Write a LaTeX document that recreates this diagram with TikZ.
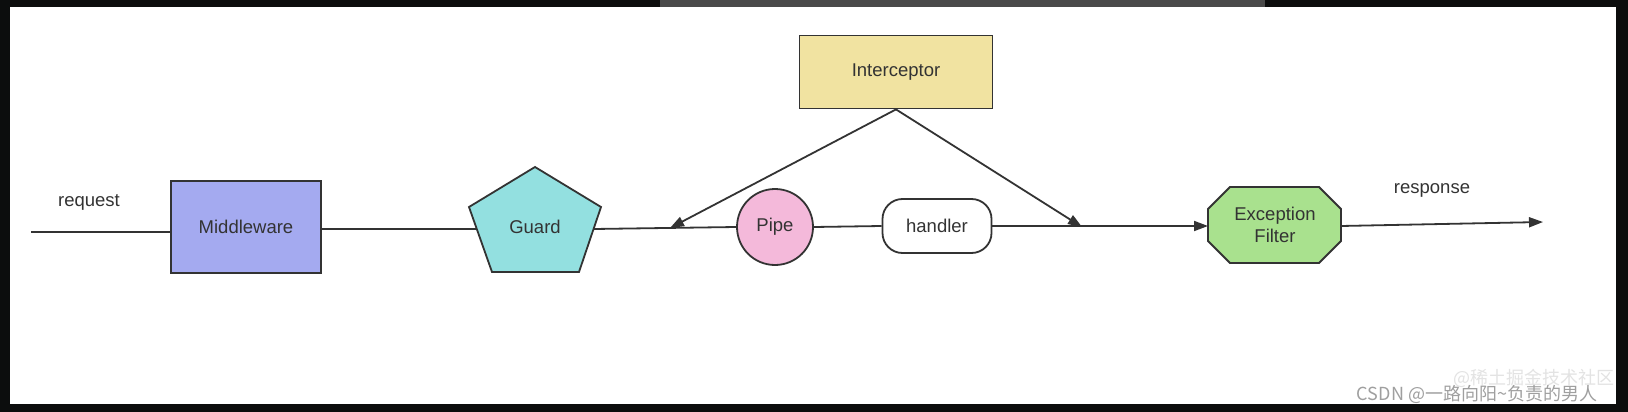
\documentclass[tikz,border=0pt]{standalone}
\usepackage{fontspec}
\usepackage{tikz}
\setmainfont{Liberation Sans}
\newfontfamily\cjk{Noto Sans CJK SC}
\usetikzlibrary{positioning,arrows.meta}

\definecolor{inkgray}{HTML}{333333}
\definecolor{screendark}{HTML}{0C0D0D}
\definecolor{tabgray}{HTML}{4A4A4A}
\definecolor{mwblue}{HTML}{A4AAF0}
\definecolor{guardcyan}{HTML}{93E0E0}
\definecolor{pipepink}{HTML}{F4B9DA}
\definecolor{icpyellow}{HTML}{F1E3A1}
\definecolor{filtergreen}{HTML}{A9E18E}

\tikzset{
  flowbox/.style={draw=inkgray,line width=1.8pt,inner sep=0pt,text=inkgray,
    font=\fontsize{18.5}{22}\selectfont},
  flowline/.style={draw=inkgray,line width=1.8pt},
  flowarrow/.style={flowline,-{Triangle[length=14pt,width=10pt]}},
  flowlabel/.style={text=inkgray,font=\fontsize{18.5}{22}\selectfont}
}

\begin{document}
\begin{tikzpicture}[x=1pt,y=-1pt]
  \useasboundingbox (0,0) rectangle (1628,412);
  % screen around the drawing
  \fill[screendark] (0,0) rectangle (1628,412);
  \fill[tabgray] (660,0) rectangle (1265,7);
  \fill[white] (10,7) rectangle (1616,404);

  \node at(896,72)[flowbox,fill=icpyellow,minimum width=193pt,minimum height=73pt](interceptor){Interceptor};

  \node at(246,227)[flowbox,fill=mwblue,minimum width=150pt,minimum height=92pt](middleware){Middleware};

  \draw[flowline,fill=guardcyan] (535,167) -- (601,207) -- (579,272) -- (492,272) -- (469,207) -- cycle;
  \node at(535,227)[flowlabel](guard){Guard};
  \coordinate (guardin) at (477,229);
  \coordinate (guardout) at (594,229);

  \node at(775,227)[flowbox,circle,fill=pipepink,minimum size=76pt](pipe){Pipe};
  \node at(937,226)[flowbox,rounded corners=20pt,fill=white,minimum width=109pt,minimum height=54pt](handler){handler};

  \draw[flowline,fill=filtergreen] (1230,187) -- (1319,187) -- (1341,209) -- (1341,241)
    -- (1319,263) -- (1230,263) -- (1208,241) -- (1208,209) -- cycle;
  \node at(1275,225)[flowlabel,align=center](filter){Exception\\Filter};
  \coordinate (filterin) at (1208,226);
  \coordinate (filterout) at (1341,226);

  \node at(89,202)[flowlabel](request){request};
  \node at(1432,190)[flowlabel](response){response};

  \coordinate (reqstart) at (31,232);
  \coordinate (respend) at (1543,222);
  \coordinate (icpleft) at (670,228);
  \coordinate (icpright) at (1082,227);

  \draw[flowline] (reqstart) -- (reqstart -| middleware.west);
  \draw[flowline] (guardin -| middleware.east) -- (guardin);
  \draw[flowline] (guardout) -- (pipe.west);
  \draw[flowline] (pipe.east) -- (handler.west);
  \draw[flowarrow] (handler.east) -- (filterin);
  \draw[flowarrow] (filterout) -- (respend);

  \draw[flowarrow] (interceptor.south) -- (icpleft);
  \draw[flowarrow] (interceptor.south) -- (icpright);

  \node at(1534,378)[text=gray!22,font=\cjk\fontsize{18}{20}\selectfont](juejin){@稀土掘金技术社区};
  \node at(1477,394)[text=gray!75,font=\cjk\fontsize{18}{20}\selectfont](watermark){CSDN @一路向阳\textasciitilde 负责的男人};
\end{tikzpicture}
\end{document}
